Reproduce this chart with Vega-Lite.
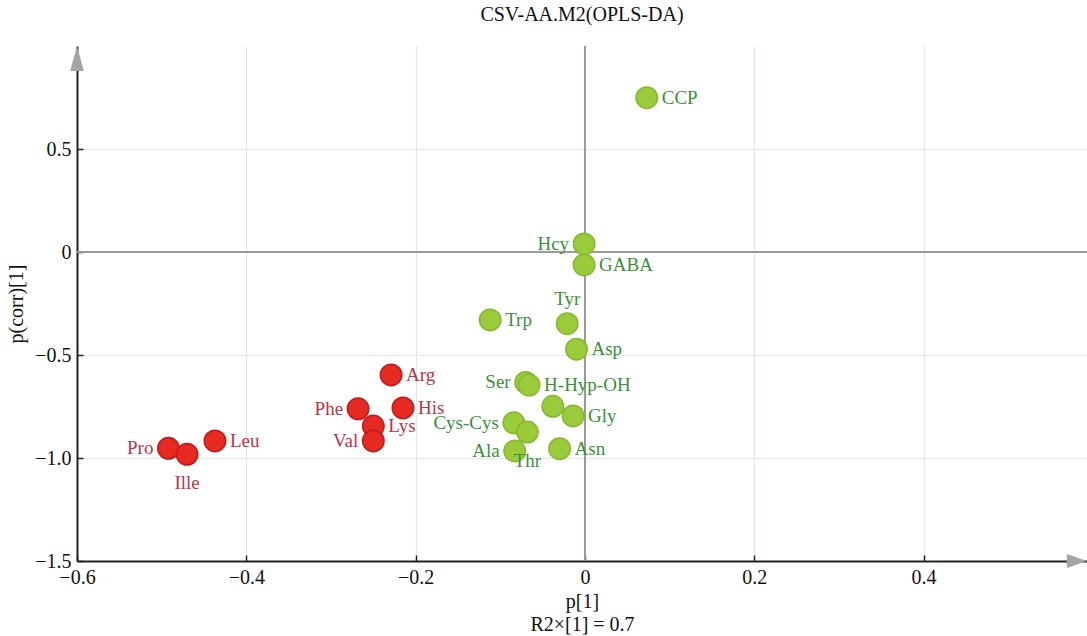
{
  "$schema": "https://vega.github.io/schema/vega-lite/v6.json",
  "width": 1010,
  "height": 515,
  "autosize": "none",
  "padding": {"left": 77, "top": 46, "right": 0, "bottom": 75},
  "background": "white",
  "title": {"text": "CSV-AA.M2(OPLS-DA)", "font": "Liberation Serif", "fontSize": 20, "fontWeight": "normal", "color": "#111111", "offset": 20, "anchor": "middle"},
  "config": {
    "view": {"stroke": null},
    "axis": {
      "labelFont": "Liberation Serif", "labelFontSize": 20, "labelColor": "#111111",
      "titleFont": "Liberation Serif", "titleFontSize": 20, "titleFontWeight": "normal", "titleColor": "#111111",
      "domainColor": "#222222", "domainWidth": 2, "tickColor": "#222222", "tickWidth": 1.5, "tickSize": -6,
      "gridColor": "#e2e7e7", "gridWidth": 1.2, "labelOverlap": false, "labelBound": false, "labelFlush": false,
      "labelExpr": "datum.value == 0 ? '0' : format(datum.value, '.1f')"
    }
  },
  "datasets": {
    "pts": [
      {"name": "Pro", "p1": -0.492, "pcorr": -0.953, "group": "red", "side": "left"},
      {"name": "Ille", "p1": -0.470, "pcorr": -0.982, "group": "red", "side": "below"},
      {"name": "Leu", "p1": -0.437, "pcorr": -0.917, "group": "red", "side": "right"},
      {"name": "Phe", "p1": -0.268, "pcorr": -0.761, "group": "red", "side": "left"},
      {"name": "Arg", "p1": -0.229, "pcorr": -0.597, "group": "red", "side": "right"},
      {"name": "His", "p1": -0.215, "pcorr": -0.757, "group": "red", "side": "right"},
      {"name": "Lys", "p1": -0.250, "pcorr": -0.845, "group": "red", "side": "right"},
      {"name": "Val", "p1": -0.250, "pcorr": -0.917, "group": "red", "side": "left"},
      {"name": "CCP", "p1": 0.073, "pcorr": 0.749, "group": "green", "side": "right"},
      {"name": "Hcy", "p1": -0.001, "pcorr": 0.039, "group": "green", "side": "left"},
      {"name": "GABA", "p1": -0.001, "pcorr": -0.063, "group": "green", "side": "right"},
      {"name": "Trp", "p1": -0.112, "pcorr": -0.330, "group": "green", "side": "right"},
      {"name": "Tyr", "p1": -0.021, "pcorr": -0.348, "group": "green", "side": "above"},
      {"name": "Asp", "p1": -0.010, "pcorr": -0.472, "group": "green", "side": "right"},
      {"name": "Ser", "p1": -0.070, "pcorr": -0.633, "group": "green", "side": "left"},
      {"name": "H-Hyp-OH", "p1": -0.066, "pcorr": -0.646, "group": "green", "side": "right"},
      {"name": "", "p1": -0.038, "pcorr": -0.749, "group": "green", "side": "none"},
      {"name": "Gly", "p1": -0.014, "pcorr": -0.796, "group": "green", "side": "right"},
      {"name": "Cys-Cys", "p1": -0.084, "pcorr": -0.829, "group": "green", "side": "left"},
      {"name": "Thr", "p1": -0.068, "pcorr": -0.874, "group": "green", "side": "below"},
      {"name": "Ala", "p1": -0.083, "pcorr": -0.966, "group": "green", "side": "left"},
      {"name": "Asn", "p1": -0.030, "pcorr": -0.955, "group": "green", "side": "right"}
    ]
  },
  "layer": [
    {
      "data": {"values": [{"v": 0}]},
      "mark": {"type": "rule", "color": "#9a9a9a", "strokeWidth": 2},
      "encoding": {
        "x": {"field": "v", "type": "quantitative",
          "scale": {"domain": [-0.6, 0.593], "nice": false, "zero": false},
          "axis": {"values": [-0.6, -0.4, -0.2, 0, 0.2, 0.4], "labelPadding": 12, "title": ["p[1]", "R2×[1] = 0.7"], "titleLineHeight": 23, "titlePadding": 4}}
      }
    },
    {
      "data": {"values": [{"v": 0}]},
      "mark": {"type": "rule", "color": "#9a9a9a", "strokeWidth": 2},
      "encoding": {
        "y": {"field": "v", "type": "quantitative",
          "scale": {"domain": [-1.5, 1.0], "nice": false, "zero": false},
          "axis": {"values": [-1.5, -1, -0.5, 0, 0.5], "labelPadding": 12, "title": "p(corr)[1]", "titlePadding": 8}}
      }
    },
    {
      "data": {"name": "pts"},
      "mark": {"type": "point", "filled": true, "size": 460, "opacity": 1, "strokeWidth": 1.5, "strokeOpacity": 1},
      "encoding": {
        "x": {"field": "p1", "type": "quantitative"},
        "y": {"field": "pcorr", "type": "quantitative"},
        "fill": {"field": "group", "type": "nominal", "scale": {"domain": ["red", "green"], "range": ["#e52a22", "#9bcb3b"]}, "legend": null},
        "stroke": {"field": "group", "type": "nominal", "scale": {"domain": ["red", "green"], "range": ["#c41a1c", "#84b82e"]}, "legend": null}
      }
    },
    {
      "data": {"name": "pts"},
      "transform": [{"filter": "datum.side == 'right'"}],
      "mark": {"type": "text", "align": "left", "baseline": "middle", "dx": 15, "font": "Liberation Serif", "fontSize": 19},
      "encoding": {
        "x": {"field": "p1", "type": "quantitative"},
        "y": {"field": "pcorr", "type": "quantitative"},
        "text": {"field": "name"},
        "color": {"field": "group", "type": "nominal", "scale": {"domain": ["red", "green"], "range": ["#b8354a", "#3b8f3b"]}, "legend": null}
      }
    },
    {
      "data": {"name": "pts"},
      "transform": [{"filter": "datum.side == 'left'"}],
      "mark": {"type": "text", "align": "right", "baseline": "middle", "dx": -15, "font": "Liberation Serif", "fontSize": 19},
      "encoding": {
        "x": {"field": "p1", "type": "quantitative"},
        "y": {"field": "pcorr", "type": "quantitative"},
        "text": {"field": "name"},
        "color": {"field": "group", "type": "nominal", "scale": {"domain": ["red", "green"], "range": ["#b8354a", "#3b8f3b"]}, "legend": null}
      }
    },
    {
      "data": {"name": "pts"},
      "transform": [{"filter": "datum.side == 'below'"}],
      "mark": {"type": "text", "align": "center", "baseline": "middle", "dy": 29, "font": "Liberation Serif", "fontSize": 19},
      "encoding": {
        "x": {"field": "p1", "type": "quantitative"},
        "y": {"field": "pcorr", "type": "quantitative"},
        "text": {"field": "name"},
        "color": {"field": "group", "type": "nominal", "scale": {"domain": ["red", "green"], "range": ["#b8354a", "#3b8f3b"]}, "legend": null}
      }
    },
    {
      "data": {"name": "pts"},
      "transform": [{"filter": "datum.side == 'above'"}],
      "mark": {"type": "text", "align": "center", "baseline": "middle", "dy": -25, "font": "Liberation Serif", "fontSize": 19},
      "encoding": {
        "x": {"field": "p1", "type": "quantitative"},
        "y": {"field": "pcorr", "type": "quantitative"},
        "text": {"field": "name"},
        "color": {"field": "group", "type": "nominal", "scale": {"domain": ["red", "green"], "range": ["#b8354a", "#3b8f3b"]}, "legend": null}
      }
    },
    {
      "data": {"values": [{"ax": -0.6, "ay": 0.939}]},
      "mark": {"type": "point", "filled": true, "opacity": 1, "color": "#a3a6a9", "size": 625, "shape": "M0,-1L0.55,1L-0.55,1Z"},
      "encoding": {
        "x": {"field": "ax", "type": "quantitative"},
        "y": {"field": "ay", "type": "quantitative"}
      }
    },
    {
      "data": {"values": [{"ax": 0.581, "ay": -1.5}]},
      "mark": {"type": "point", "filled": true, "opacity": 1, "color": "#a3a6a9", "size": 400, "shape": "M1,0L-1,-0.7L-1,0.7Z"},
      "encoding": {
        "x": {"field": "ax", "type": "quantitative"},
        "y": {"field": "ay", "type": "quantitative"}
      }
    }
  ]
}
